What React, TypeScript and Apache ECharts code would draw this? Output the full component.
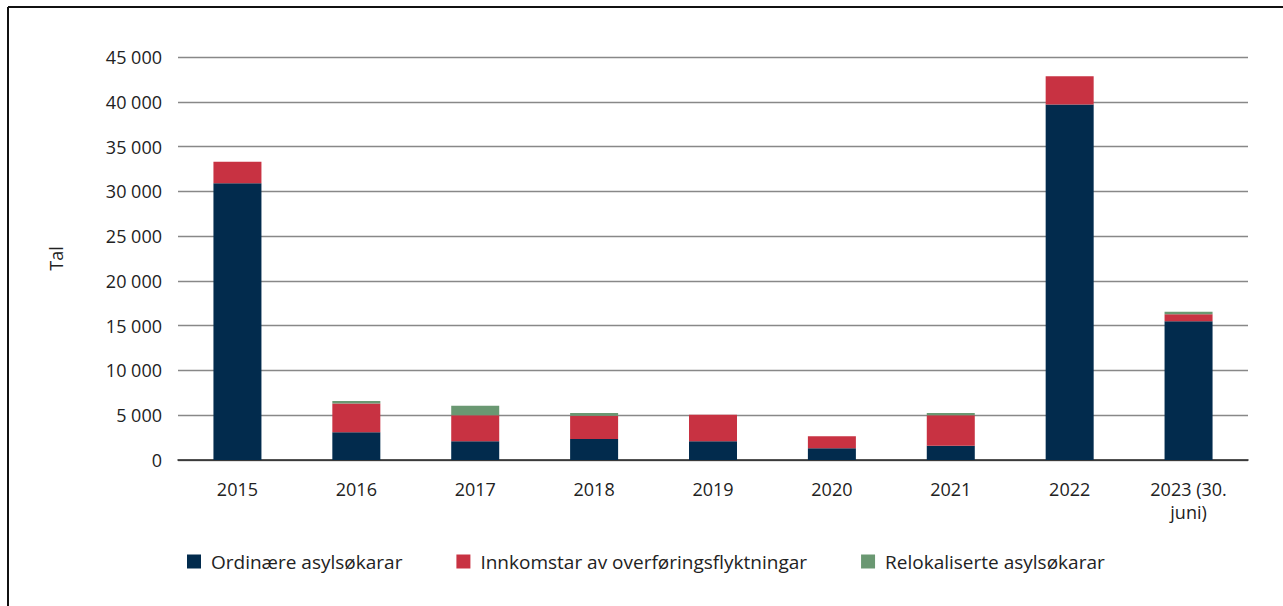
import React, { useEffect, useRef } from "react";
import * as echarts from "echarts";

const categories = ["2015", "2016", "2017", "2018", "2019", "2020", "2021", "2022", "2023 (30.\njuni)"];
const ordinary = [30900, 3100, 2100, 2350, 2100, 1300, 1600, 39700, 15500];
const resettled = [2400, 3200, 2900, 2600, 2950, 1350, 3400, 3150, 780];
const relocated = [0, 300, 1050, 300, 0, 0, 250, 0, 270];
const seriesNames = ["Ordinære asylsøkarar", "Innkomstar av overføringsflyktningar", "Relokaliserte asylsøkarar"];
const colors = ["#022b4d", "#c83242", "#6a9872"];

const FONT = "'Open Sans', sans-serif";

export default function App() {
  const ref = useRef<HTMLDivElement>(null);
  useEffect(() => {
    const chart = echarts.init(ref.current!, null, { renderer: "svg" });
    const data = [ordinary, resettled, relocated];
    chart.setOption({
      animation: false,
      textStyle: { fontFamily: FONT },
      graphic: [
        { type: "line", shape: { x1: 8, y1: 7, x2: 1283, y2: 7 }, style: { stroke: "#111", lineWidth: 2 } },
        { type: "line", shape: { x1: 8, y1: 7, x2: 8, y2: 606 }, style: { stroke: "#111", lineWidth: 2 } },
      ],
      grid: { left: 178, right: 35, top: 57, bottom: 146 },
      legend: {
        left: 182,
        top: 547,
        itemWidth: 14,
        itemHeight: 14,
        itemGap: 54,
        icon: "rect",
        textStyle: { fontFamily: FONT, fontSize: 19, color: "#222", padding: [0, 0, 0, 5] },
        data: seriesNames,
      },
      xAxis: {
        type: "category",
        data: categories,
        axisLine: { lineStyle: { color: "#222", width: 1.5 } },
        axisTick: { show: false },
        axisLabel: { fontFamily: FONT, fontSize: 18, color: "#222", margin: 17, lineHeight: 23 },
      },
      yAxis: {
        type: "value",
        min: 0,
        max: 45000,
        interval: 5000,
        name: "Tal",
        nameLocation: "middle",
        nameGap: 113,
        nameRotate: 90,
        nameTextStyle: { fontFamily: FONT, fontSize: 18, color: "#222" },
        axisLabel: {
          fontFamily: FONT,
          fontSize: 18,
          color: "#222",
          margin: 16,
          formatter: (v: number) => (v >= 1000 ? `${Math.floor(v / 1000)} ${String(v % 1000).padStart(3, "0")}` : String(v)),
        },
        splitLine: { lineStyle: { color: "#888", width: 1.3 } },
        axisLine: { show: false },
        axisTick: { show: false },
      },
      series: seriesNames.map((name, i) => ({
        name,
        type: "bar",
        stack: "total",
        barWidth: 48,
        itemStyle: { color: colors[i] },
        data: data[i],
      })),
    });
    return () => chart.dispose();
  }, []);
  return <div ref={ref} style={{ position: "fixed", left: 0, top: 0, width: 1283, height: 606, background: "#fff" }} />;
}
